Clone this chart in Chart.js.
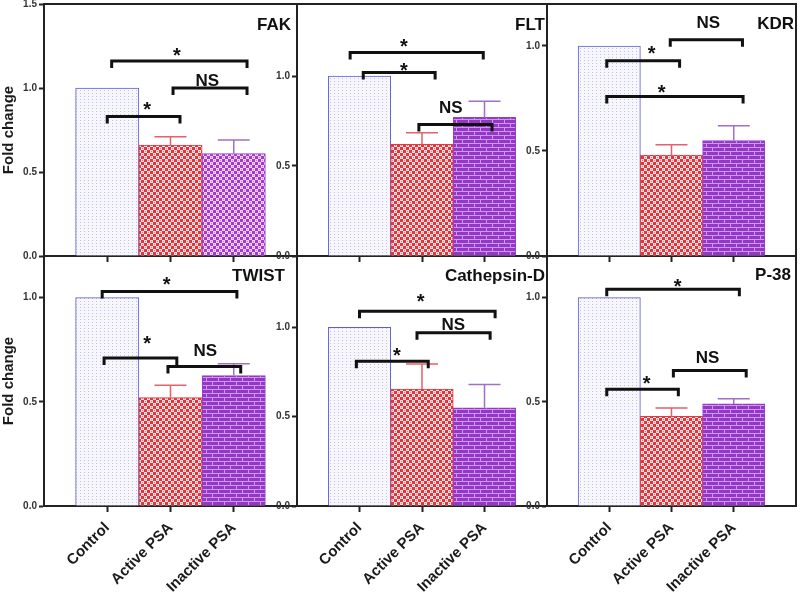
<!DOCTYPE html>
<html><head><meta charset="utf-8">
<script src="https://cdn.jsdelivr.net/npm/chart.js@4.4.1/dist/chart.umd.min.js"></script>
<style>
html,body{margin:0;padding:0;background:#fff;}
#wrap{position:relative;width:800px;height:597px;overflow:hidden;background:#fff;}
#wrap canvas{position:absolute;}
</style></head><body><div id="wrap"></div>
<script>
// ---------------- data ----------------
const categories = ['Control', 'Active PSA', 'Inactive PSA'];
const genes = ['FAK', 'FLT', 'KDR', 'TWIST', 'Cathepsin-D', 'P-38'];
const yTickValues = [0, 0.5, 1.0, 1.5];
const yMaxima = [1.5, 1.4, 1.2, 1.2, 1.4, 1.2];

const fakMean   = [1.00, 0.66, 0.61];
const fakSem    = [0, 0.05, 0.08];
const fltMean   = [1.00, 0.62, 0.77];
const fltSem    = [0, 0.065, 0.09];
const kdrMean   = [1.00, 0.48, 0.55];
const kdrSem    = [0, 0.05, 0.07];
const twistMean = [1.00, 0.52, 0.626];
const twistSem  = [0, 0.06, 0.057];
const cathMean  = [1.00, 0.655, 0.55];
const cathSem   = [0, 0.14, 0.13];
const p38Mean   = [1.00, 0.43, 0.49];
const p38Sem    = [0, 0.04, 0.025];

// significance brackets: [label, from (category index), to, bracket level, label x, label y]
const fakSig   = [['*', 1.07, 3.21, 1.16, 2.10, 1.22], ['NS', 2.04, 3.21, 1.00, 2.58, 1.05], ['*', 1.00, 2.15, 0.83, 1.63, 0.90]];
const fltSig   = [['*', 0.85, 2.98, 1.13, 1.71, 1.19], ['*', 1.06, 2.21, 1.02, 1.71, 1.055], ['NS', 1.95, 3.12, 0.73, 2.46, 0.83]];
const kdrSig   = [['NS', 1.98, 3.14, 1.03, 2.59, 1.115], ['*', 0.96, 2.13, 0.93, 1.68, 0.985], ['*', 0.96, 3.15, 0.76, 1.84, 0.80]];
const twistSig = [['*', 0.92, 3.05, 1.03, 1.94, 1.087], ['*', 0.95, 2.10, 0.71, 1.63, 0.80], ['NS', 1.96, 3.11, 0.67, 2.55, 0.75]];
const cathSig  = [['*', 1.00, 3.17, 1.09, 1.98, 1.17], ['NS', 1.92, 3.09, 0.97, 2.50, 1.02], ['*', 0.95, 2.10, 0.81, 1.60, 0.87]];
const p38Sig   = [['*', 0.96, 3.09, 1.04, 2.10, 1.077], ['NS', 2.03, 3.20, 0.65, 2.58, 0.713], ['*', 0.96, 2.11, 0.56, 1.60, 0.612]];

const means = [fakMean, fltMean, kdrMean, twistMean, cathMean, p38Mean];
const sems  = [fakSem, fltSem, kdrSem, twistSem, cathSem, p38Sem];
const sigs  = [fakSig, fltSig, kdrSig, twistSig, cathSig, p38Sig];

// ---------------- styles / layout ----------------
const FONT = '"Liberation Sans", Arial, Helvetica, sans-serif';
function makePattern(w, h, draw) {
  const c = document.createElement('canvas'); c.width = w; c.height = h;
  const g = c.getContext('2d'); draw(g);
  return g.createPattern(c, 'repeat');
}
const patControl = makePattern(4, 3, g => { g.fillStyle = '#f6f6fc'; g.fillRect(0,0,4,3); g.fillStyle = '#c2c2de'; g.fillRect(0,0,1,1); });
const patActive = makePattern(6, 6, g => { g.fillStyle = '#e8323a'; g.fillRect(0,0,6,6); g.fillStyle = '#ffe2e4'; g.fillRect(0,0,3,3); g.fillRect(3,3,3,3); g.fillStyle='#f07a80'; g.fillRect(1,1,1,1); g.fillRect(4,4,1,1);} );
const patInactiveChk = makePattern(6, 6, g => { g.fillStyle = '#a23ad2'; g.fillRect(0,0,6,6); g.fillStyle = '#f6d2fb'; g.fillRect(0,0,3,3); g.fillRect(3,3,3,3); g.fillStyle='#c776e6'; g.fillRect(1,1,1,1); g.fillRect(4,4,1,1);} );
const patInactiveBrick = makePattern(12, 8, g => {
  g.fillStyle = '#9436c6'; g.fillRect(0,0,12,8);
  g.fillStyle = '#cf98ee';
  g.fillRect(0,3,12,1); g.fillRect(0,7,12,1);
  g.fillRect(2,0,1,3); g.fillRect(8,4,1,3);
});
const errColors = [null, '#e5606a', '#a070c4'];
const borderColors = ['#5c5cd6', '#e23a40', '#9440c4'];

const panels = [
  {left:0,   top:0,   w:300, h:268, axisW:44, padTop:4, padRight:3, xH:12, yTitle:true,  xLabels:false, brick:false, tRight:6,  tY:21},
  {left:262, top:0,   w:288, h:268, axisW:35, padTop:4, padRight:3, xH:12, yTitle:false, xLabels:false, brick:true,  tRight:2,  tY:21},
  {left:512, top:0,   w:288, h:268, axisW:35, padTop:4, padRight:4, xH:12, yTitle:false, xLabels:false, brick:true,  tRight:2,  tY:20},
  {left:0,   top:250, w:300, h:347, axisW:44, padTop:6, padRight:3, xH:91, yTitle:true,  xLabels:true,  brick:true,  tRight:12, tY:20},
  {left:262, top:250, w:288, h:347, axisW:35, padTop:6, padRight:3, xH:91, yTitle:false, xLabels:true,  brick:true,  tRight:2,  tY:20},
  {left:512, top:250, w:288, h:347, axisW:35, padTop:6, padRight:4, xH:91, yTitle:false, xLabels:true,  brick:true,  tRight:5,  tY:19}
];

const annotate = {
  id: 'annotate',
  afterDatasetsDraw(chart, args, o) {
    const {ctx, chartArea: a, scales: {x, y}} = chart;
    ctx.save();
    // error bars
    o.mean.forEach((m, i) => {
      const s = o.sem[i]; if (!s) return;
      const cx = x.getPixelForValue(i + 1);
      const y0 = y.getPixelForValue(m), y1 = y.getPixelForValue(m + s);
      ctx.strokeStyle = errColors[i]; ctx.lineWidth = 1.5;
      ctx.beginPath();
      ctx.moveTo(cx, y0); ctx.lineTo(cx, y1);
      ctx.moveTo(cx - 16, y1); ctx.lineTo(cx + 16, y1);
      ctx.stroke();
    });
    // brackets
    ctx.strokeStyle = '#111'; ctx.fillStyle = '#111'; ctx.lineWidth = 3; ctx.lineJoin = 'miter';
    o.sig.forEach(([lab, x1, x2, lv, lx, ly]) => {
      const px1 = x.getPixelForValue(x1), px2 = x.getPixelForValue(x2), py = y.getPixelForValue(lv);
      ctx.beginPath();
      ctx.moveTo(px1, py + 7); ctx.lineTo(px1, py); ctx.lineTo(px2, py); ctx.lineTo(px2, py + 7);
      ctx.stroke();
      const tx = x.getPixelForValue(lx), ty = y.getPixelForValue(ly);
      ctx.textAlign = 'center'; ctx.textBaseline = 'alphabetic';
      if (lab === '*') { ctx.font = 'bold 20px ' + FONT; ctx.fillText('*', tx, ty + 11); }
      else { ctx.font = 'bold 17px ' + FONT; ctx.fillText(lab, tx, ty + 6); }
    });
    // frame top & right
    ctx.strokeStyle = '#222'; ctx.lineWidth = 2;
    ctx.beginPath(); ctx.moveTo(a.left, a.top); ctx.lineTo(a.right, a.top); ctx.lineTo(a.right, a.bottom); ctx.stroke();
    // gene title
    ctx.font = 'bold 17px ' + FONT; ctx.fillStyle = '#111'; ctx.textAlign = 'right'; ctx.textBaseline = 'middle';
    ctx.fillText(o.title, a.right - o.tRight, a.top + o.tY);
    ctx.restore();
  }
};

const wrap = document.getElementById('wrap');
const order = [3, 4, 5, 0, 1, 2];
order.forEach(k => {
  const P = panels[k];
  const cv = document.createElement('canvas');
  cv.width = P.w; cv.height = P.h;
  cv.style.left = P.left + 'px'; cv.style.top = P.top + 'px';
  cv.style.width = P.w + 'px'; cv.style.height = P.h + 'px';
  wrap.appendChild(cv);
  const yMax = yMaxima[k];
  const bg = [null, patControl, patActive, P.brick ? patInactiveBrick : patInactiveChk, null];
  new Chart(cv, {
    type: 'bar',
    data: {
      labels: ['', ...categories, ''],
      datasets: [{
        data: [null, ...means[k], null],
        backgroundColor: bg,
        borderColor: [null, ...borderColors, null],
        borderWidth: 1,
        barPercentage: 1, categoryPercentage: 1
      }]
    },
    options: {
      responsive: false, animation: false, devicePixelRatio: 1,
      layout: {padding: {top: P.padTop, right: P.padRight, left: 0, bottom: 0}},
      plugins: {legend: {display: false}, tooltip: {enabled: false},
        annotate: {mean: means[k], sem: sems[k], sig: sigs[k], title: genes[k], tRight: P.tRight, tY: P.tY}},
      scales: {
        x: {
          type: 'category', offset: false,
          grid: {display: true, offset: false, drawOnChartArea: false, drawTicks: true, tickLength: 6, tickWidth: 2,
                 tickColor: c => (c.index === 0 || c.index === 4) ? 'rgba(0,0,0,0)' : '#222'},
          border: {display: true, color: '#222', width: 2},
          ticks: {display: P.xLabels, autoSkip: false, minRotation: 45, maxRotation: 45, padding: 7, color: '#1a1a1a',
                  font: {family: FONT, size: 15, weight: 'bold'}},
          afterFit(s) { s.height = P.xH; s.paddingLeft = 0; s.paddingRight = 0; }
        },
        y: {
          min: 0, max: yMax,
          afterBuildTicks(s) { s.ticks = yTickValues.filter(v => v <= yMax + 1e-9).map(v => ({value: v})); },
          grid: {drawOnChartArea: false, tickLength: 5, tickWidth: 2, color: '#222'},
          border: {display: true, color: '#222', width: 2},
          ticks: {callback: v => Number(v).toFixed(1), padding: 2, color: '#333', font: {family: FONT, size: 10, weight: 'bold'}},
          title: {display: P.yTitle, text: 'Fold change', color: '#1a1a1a', padding: 0, font: {family: FONT, size: 15, weight: 'bold'}},
          afterFit(s) { s.width = P.axisW; s.paddingTop = 0; s.paddingBottom = 0; }
        }
      }
    },
    plugins: [annotate]
  });
});
</script>
</body></html>
